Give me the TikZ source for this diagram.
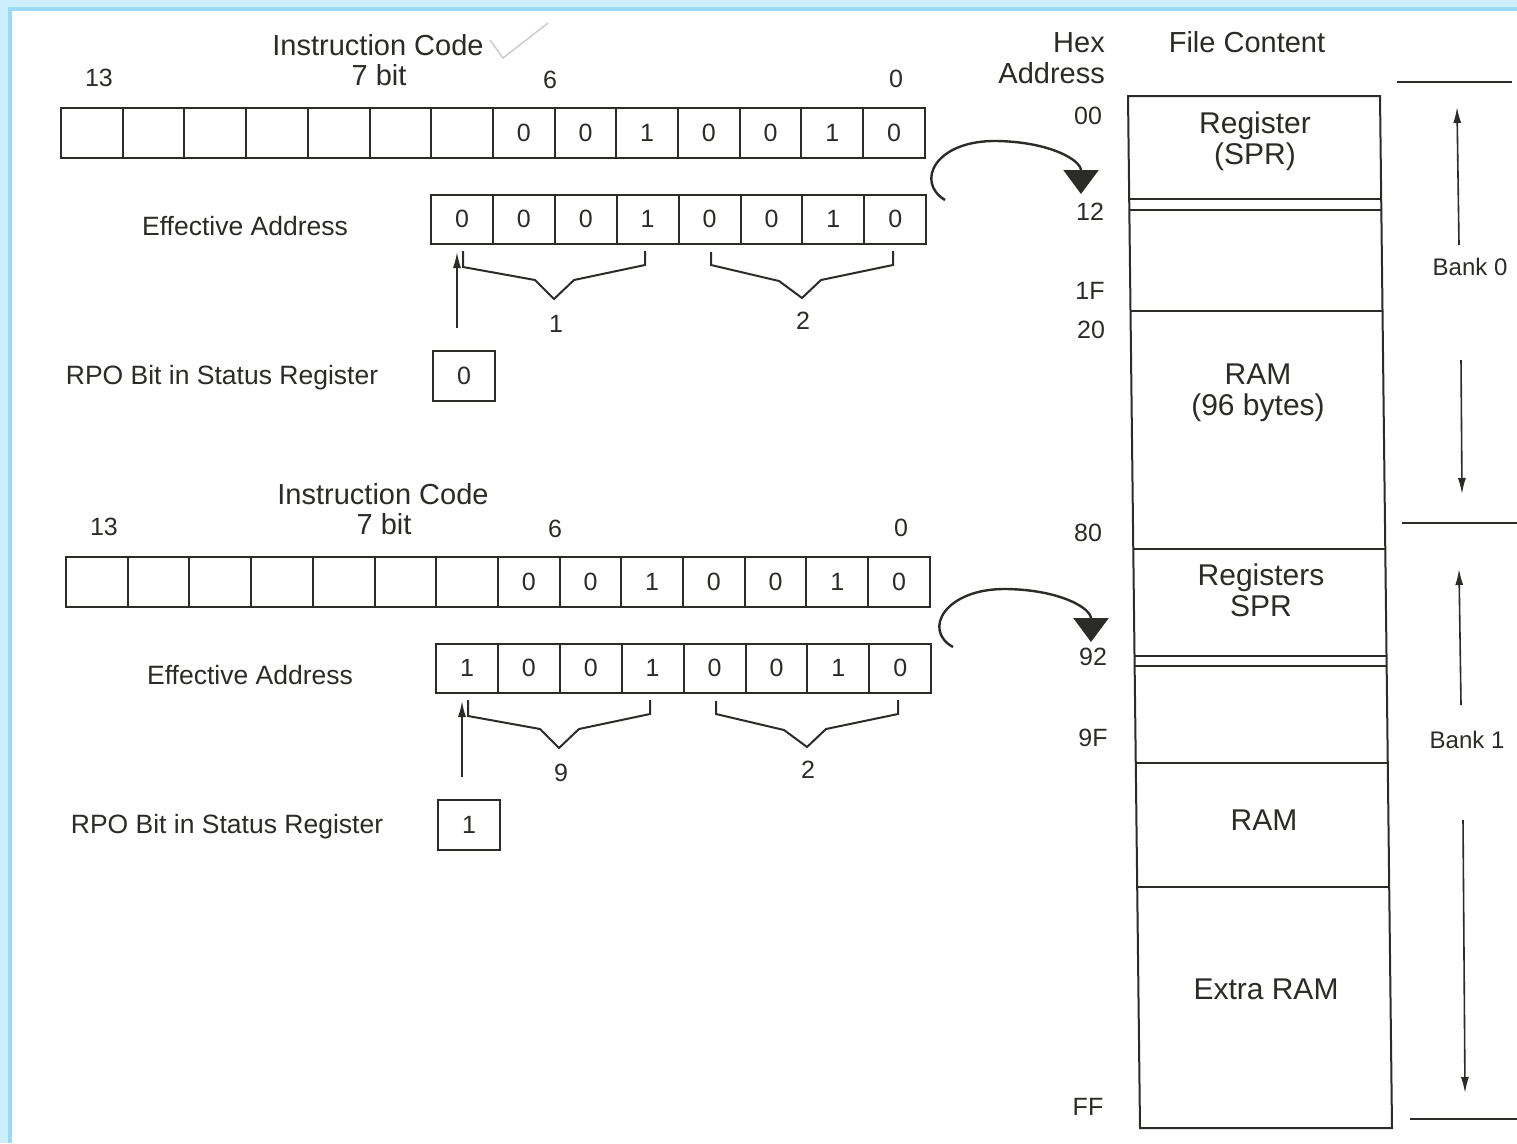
\documentclass[tikz,border=0pt]{standalone}
\usepackage{fontspec}
\setmainfont{Liberation Sans}
\usetikzlibrary{arrows.meta}
\definecolor{ink}{HTML}{2B2B27}
\definecolor{paleblue}{HTML}{CDEEFC}
\definecolor{frameblue}{HTML}{9BDAF7}

\newcommand{\addrblock}[6]{%
\begin{scope}[shift={(#2,#3)}]
  \node[hdr] (#1title) at (378,45) {Instruction Code};
  \node[num] (#1b13) at (99,78) {13};
  \node[hdr] (#1seven) at (379,75) {7 bit};
  \node[num] (#1b6) at (550,80) {6};
  \node[num] (#1b0) at (896,79) {0};
  \foreach \i/\v in {0/{},1/{},2/{},3/{},4/{},5/{},6/{},7/0,8/0,9/1,10/0,11/0,12/1,13/0}
    \node[cell] (#1ic\i) at ({61+61.7*(\i+0.5)},133) {\v};
  \node[lbl] (#1ealbl) at (245,226) {Effective Address};
  \foreach \v [count=\k from 0] in {#4}
    \node[cell, minimum width=61.9pt, minimum height=49pt] (#1ea\k) at ({431+61.9*(\k+0.5)},219) {\v};
  \node[lbl] (#1rpotxt) at (222,375) {RPO Bit in Status Register};
  \node[cell, minimum width=62pt] (#1rpo) at (464,376) {#5};
  \coordinate (#1arrs) at (457,328);
  \coordinate (#1arrt) at (457,252);
  \draw[arr] (#1arrs) -- (#1arrt);
  \draw[wire, line join=miter] (463,251) -- (463,267) -- (535,280) -- (554,299) -- (574,280) -- (645,265) -- (645,251);
  \draw[wire, line join=miter] (711,252) -- (711,265) -- (779,281) -- (802,298) -- (821,280) -- (893,265) -- (893,251);
  \node[num] (#1brA) at (556,324) {#6};
  \node[num] (#1brB) at (803,321) {2};
\end{scope}}

\begin{document}
\begin{tikzpicture}[x=1pt,y=-1pt,
  every node/.style={text=ink, inner sep=0pt, text depth=0pt},
  cell/.style={draw=ink, line width=2pt, minimum width=61.7pt, minimum height=50pt, font=\fontsize{25}{25}\selectfont},
  lbl/.style={font=\fontsize{26.5}{30}\selectfont},
  hdr/.style={font=\fontsize{29}{30}\selectfont},
  num/.style={font=\fontsize{25}{25}\selectfont},
  memtxt/.style={font=\fontsize{30}{31}\selectfont, align=center},
  bank/.style={font=\fontsize{24}{24}\selectfont},
  wire/.style={draw=ink, line width=2pt},
  arr/.style={draw=ink, line width=1.6pt, -{Latex[length=16pt,width=8pt]}},
  bigarr/.style={draw=ink, line width=2.4pt, -{Triangle[length=24pt,width=35pt]}},
]
\useasboundingbox (0,0) rectangle (1517,1143);
\fill[white] (0,0) rectangle (1517,1143);
% frame
\fill[paleblue] (0,0) rectangle (1517,8);
\fill[paleblue] (0,0) rectangle (10,1143);
\draw[frameblue, line width=4pt] (10,1143) -- (10,9) -- (1517,9);

% faint check mark
\draw[gray!40, line width=1.5pt] (490,40) -- (503,58) -- (548,23);

\addrblock{a}{0}{0}{0,0,0,1,0,0,1,0}{0}{1}
\addrblock{b}{5}{449}{1,0,0,1,0,0,1,0}{1}{9}

% curved arrows
\coordinate (c1s) at (945,200);
\coordinate (c1t) at (1081,194);
\draw[bigarr] (c1s) .. controls (915,182) and (935,140) .. (997,141) .. controls (1050,142) and (1081,160) .. (c1t);
\coordinate (c2s) at (953,647);
\coordinate (c2t) at (1091,642);
\draw[bigarr] (c2s) .. controls (922,630) and (945,588) .. (1007,589) .. controls (1060,590) and (1091,608) .. (c2t);

% headers
\node[hdr, anchor=east] (hex) at (1105,43) {Hex};
\node[hdr, anchor=east] (addr) at (1105,73) {Address};
\node[hdr] (fc) at (1247,42) {File Content};

% hex addresses
\node[num] (h00) at (1088,116) {00};
\node[num] (h12) at (1090,212) {12};
\node[num] (h1F) at (1090,291) {1F};
\node[num] (h20) at (1091,330) {20};
\node[num] (h80) at (1088,533) {80};
\node[num] (h92) at (1093,657) {92};
\node[num] (h9F) at (1093,738) {9F};
\node[num] (hFF) at (1088,1107) {FF};

% memory map
\draw[wire] (1128,96) -- (1380,96) -- (1392,1128) -- (1140,1128) -- cycle;
\draw[wire] (1129.2,199) -- (1381.2,199);
\draw[wire] (1129.3,210) -- (1381.3,210);
\draw[wire] (1130.5,311) -- (1382.5,311);
\draw[wire] (1133.3,549) -- (1385.3,549);
\draw[wire] (1134.5,656) -- (1386.5,656);
\draw[wire] (1134.6,666) -- (1386.6,666);
\draw[wire] (1135.8,763) -- (1387.8,763);
\draw[wire] (1137.2,887) -- (1389.2,887);

\node[memtxt] (regspr) at (1255,138) {Register\\(SPR)};
\node[memtxt] (ram0) at (1258,390) {RAM\\(96 bytes)};
\node[memtxt] (regs1) at (1261,590) {Registers\\SPR};
\node[memtxt] (ram1) at (1264,820) {RAM};
\node[memtxt] (xram) at (1266,989) {Extra RAM};

% banks
\draw[wire] (1397,82) -- (1512,82);
\draw[wire] (1402,523) -- (1517,523);
\draw[wire] (1410,1119) -- (1517,1119);
\node[bank] (bank0) at (1470,267) {Bank 0};
\node[bank] (bank1) at (1467,740) {Bank 1};
\coordinate (b0us) at (1459,245);
\coordinate (b0ut) at (1457,107);
\coordinate (b0ds) at (1461,360);
\coordinate (b0dt) at (1462,494);
\coordinate (b1us) at (1461,705);
\coordinate (b1ut) at (1459,569);
\coordinate (b1ds) at (1463,820);
\coordinate (b1dt) at (1465,1093);
\draw[arr] (b0us) -- (b0ut);
\draw[arr] (b0ds) -- (b0dt);
\draw[arr] (b1us) -- (b1ut);
\draw[arr] (b1ds) -- (b1dt);
\end{tikzpicture}
\end{document}
